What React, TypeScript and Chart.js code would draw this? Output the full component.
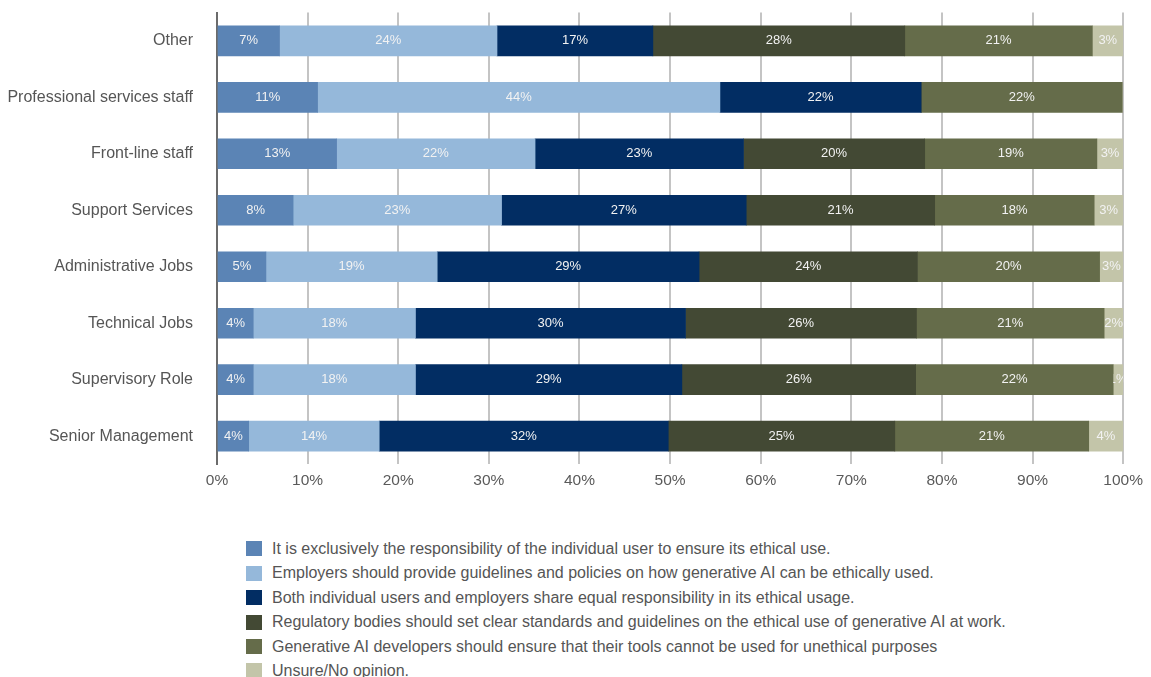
import React, { useEffect, useRef } from "react";
import { Chart, registerables } from "chart.js";

Chart.register(...registerables);

const categories = [
  "Other",
  "Professional services staff",
  "Front-line staff",
  "Support Services",
  "Administrative Jobs",
  "Technical Jobs",
  "Supervisory Role",
  "Senior Management",
];

const seriesNames = [
  "It is exclusively the responsibility of the individual user to ensure its ethical use.",
  "Employers should provide guidelines and policies on how generative AI can be ethically used.",
  "Both individual users and employers share equal responsibility in its ethical usage.",
  "Regulatory bodies should set clear standards and guidelines on the ethical use of generative AI at work.",
  "Generative AI developers should ensure that their tools cannot be used for unethical purposes",
  "Unsure/No opinion.",
];

const individualUser = [6.9, 11.1, 13.2, 8.4, 5.4, 4.0, 4.0, 3.5];
const employers = [24.0, 44.4, 21.9, 23.0, 18.9, 17.9, 17.9, 14.4];
const shared = [17.2, 22.2, 23.0, 27.0, 28.9, 29.8, 29.4, 31.9];
const regulators = [27.8, 0, 20.0, 20.8, 24.1, 25.5, 25.8, 25.0];
const developers = [20.7, 22.2, 19.0, 17.6, 20.1, 20.7, 21.8, 21.4];
const unsure = [3.4, 0, 2.9, 3.2, 2.6, 2.1, 1.1, 3.8];

const seriesValues = [individualUser, employers, shared, regulators, developers, unsure];
const seriesColors = ["#5b84b5", "#95b8da", "#022d63", "#434934", "#656c4a", "#c3c5a9"];

const xTicks = [0, 10, 20, 30, 40, 50, 60, 70, 80, 90, 100];

const FONT = '"Liberation Sans", Arial, Helvetica, sans-serif';

const segmentLabels = {
  id: "segmentLabels",
  afterDatasetsDraw(chart: any) {
    const ctx = chart.ctx;
    chart.data.datasets.forEach((ds: any, di: number) => {
      const meta = chart.getDatasetMeta(di);
      if (meta.hidden) return;
      meta.data.forEach((bar: any, i: number) => {
        const v = ds.data[i];
        if (!v) return;
        const props = bar.getProps(["x", "y", "base", "height"], true);
        const left = Math.min(props.x, props.base);
        const right = Math.max(props.x, props.base);
        const top = props.y - props.height / 2;
        ctx.save();
        ctx.beginPath();
        ctx.rect(left, top, right - left, props.height);
        ctx.clip();
        ctx.fillStyle = "#f2f2f2";
        ctx.font = `13px ${FONT}`;
        ctx.textAlign = "center";
        ctx.textBaseline = "middle";
        ctx.fillText(`${Math.round(v)}%`, (left + right) / 2, props.y);
        ctx.restore();
      });
    });
  },
};

export default function App() {
  const canvasRef = useRef<HTMLCanvasElement | null>(null);

  useEffect(() => {
    document.documentElement.style.overflow = "hidden";
    if (!canvasRef.current) return;
    const chart = new Chart(canvasRef.current, {
      type: "bar",
      data: {
        labels: categories,
        datasets: seriesValues.map((vals, i) => ({
          label: seriesNames[i],
          data: vals,
          backgroundColor: seriesColors[i],
          borderWidth: 0,
          barThickness: 30,
        })),
      },
      options: {
        indexAxis: "y",
        animation: false,
        responsive: true,
        maintainAspectRatio: false,
        layout: { padding: { top: 0, right: 0, bottom: 8, left: 0 } },
        plugins: {
          legend: { display: false },
          tooltip: { enabled: false },
        },
        scales: {
          x: {
            stacked: true,
            min: 0,
            max: 100,
            afterBuildTicks: (scale: any) => {
              scale.ticks = xTicks.map((v) => ({ value: v }));
            },
            ticks: {
              callback: (v: any) => `${v}%`,
              color: "#5a5a5a",
              font: { family: FONT, size: 15.5 },
              padding: 0,
              maxRotation: 0,
            },
            grid: {
              color: "#c4c4c4",
              lineWidth: 2,
              drawTicks: true,
              tickLength: 7,
              tickColor: "rgba(0,0,0,0)",
            },
            border: { display: false },
          },
          y: {
            stacked: true,
            afterFit: (scale: any) => {
              scale.width = 209;
            },
            ticks: {
              color: "#555555",
              font: { family: FONT, size: 16 },
              padding: 3,
            },
            grid: { display: false, drawTicks: true, tickLength: 21 },
            border: { display: true, color: "#6b6b6b", width: 2 },
          },
        },
      },
      plugins: [segmentLabels],
    });
    return () => chart.destroy();
  }, []);

  return (
    <div style={{ fontFamily: FONT }}>
      <div style={{ position: "relative", width: 1135, height: 498, marginTop: -8 }}>
        <canvas ref={canvasRef} style={{ display: "block" }} />
      </div>
      <div style={{ marginTop: 38.8, marginLeft: 238 }}>
        {seriesNames.map((name, i) => (
          <div
            key={name}
            style={{ display: "flex", alignItems: "center", height: 24.4 }}
          >
            <span
              style={{
                display: "inline-block",
                width: 16,
                height: 15,
                background: seriesColors[i],
                marginRight: 10,
                flexShrink: 0,
              }}
            />
            <span style={{ fontSize: 16, color: "#555555", whiteSpace: "nowrap" }}>{name}</span>
          </div>
        ))}
      </div>
    </div>
  );
}
